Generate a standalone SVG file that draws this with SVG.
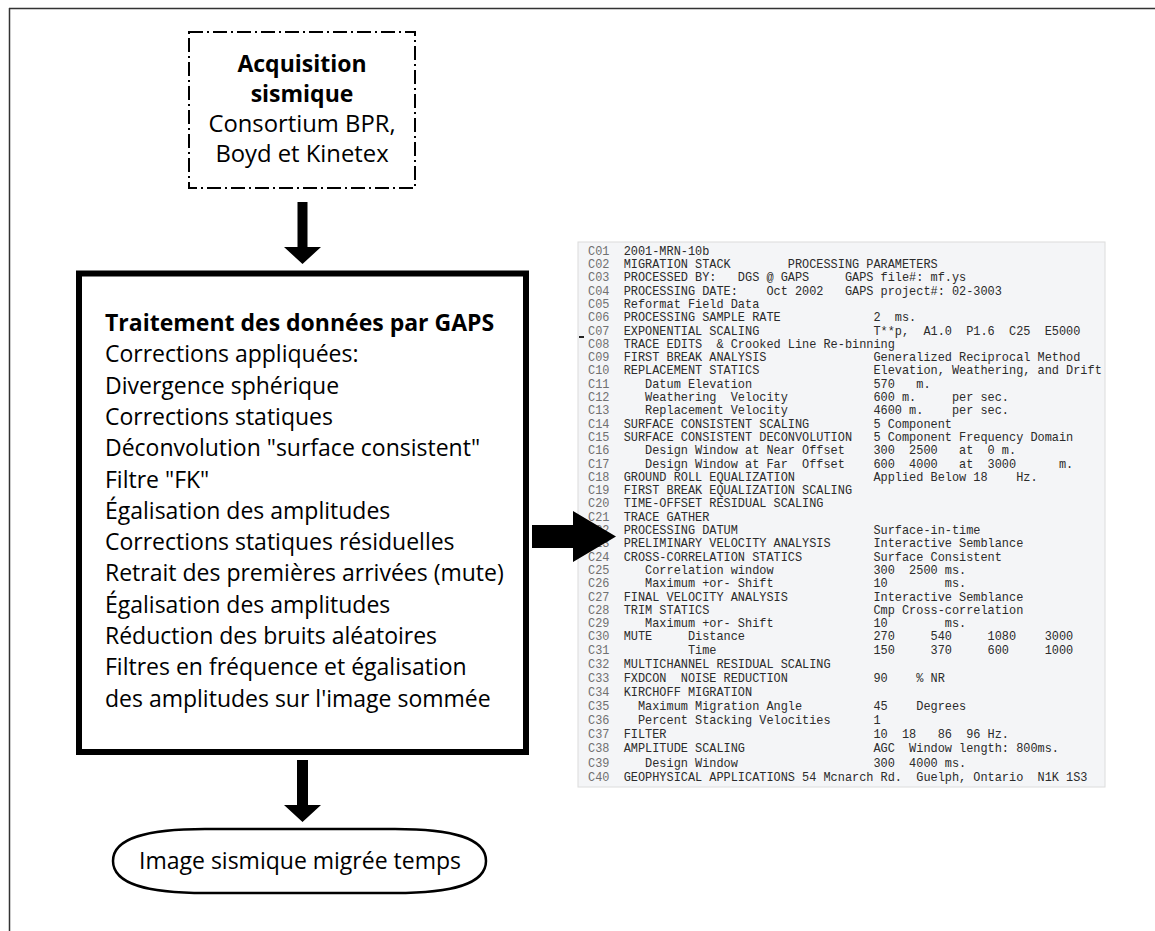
<svg xmlns="http://www.w3.org/2000/svg" width="1155" height="931" viewBox="0 0 1155 931">
<style>
.s{font-family:"Open Sans","Liberation Sans",sans-serif;font-size:23px;fill:#000}
.b{font-weight:bold;font-size:23px}
.a{font-size:23.8px}
.c{text-anchor:middle}
.m{font-family:"Liberation Mono","DejaVu Sans Mono",monospace;font-size:11.9px;fill:#2b2b2b;white-space:pre}
.l{fill:#707070}
.frame{stroke:#333;stroke-width:1.5;fill:none}
.arrow{fill:#000}
</style>
<rect width="1155" height="931" fill="#fff"/>
<g id="frame">
<line class="frame" x1="9" y1="8.5" x2="1155" y2="8.5"/>
<line class="frame" x1="9.5" y1="8" x2="9.5" y2="931"/>
</g>
<g id="node-acquisition">
<rect x="189" y="32" width="226" height="156" fill="#fff" stroke="#000" stroke-width="2" stroke-dasharray="14 4 2 4"/>
<text class="s b c" x="302" y="72">Acquisition</text>
<text class="s b c" x="302" y="102">sismique</text>
<text class="s a c" x="302" y="132">Consortium BPR,</text>
<text class="s a c" x="302" y="162">Boyd et Kinetex</text>
</g>
<g id="node-traitement">
<rect x="79" y="273.5" width="447" height="478.5" fill="#fff" stroke="#000" stroke-width="6"/>
<text class="s b" x="105" y="331">Traitement des données par GAPS</text>
<text class="s" x="105" y="362.3">Corrections appliquées:</text>
<text class="s" x="105" y="393.6">Divergence sphérique</text>
<text class="s" x="105" y="424.9">Corrections statiques</text>
<text class="s" x="105" y="456.2">Déconvolution "surface consistent"</text>
<text class="s" x="105" y="487.5">Filtre "FK"</text>
<text class="s" x="105" y="518.8">Égalisation des amplitudes</text>
<text class="s" x="105" y="550.1">Corrections statiques résiduelles</text>
<text class="s" x="105" y="581.4">Retrait des premières arrivées (mute)</text>
<text class="s" x="105" y="612.7">Égalisation des amplitudes</text>
<text class="s" x="105" y="644">Réduction des bruits aléatoires</text>
<text class="s" x="105" y="675.3">Filtres en fréquence et égalisation</text>
<text class="s" x="105" y="706.6">des amplitudes sur l'image sommée</text>
</g>
<g id="node-image">
<path d="M113,861 C113,837 150,829 205,829 L395,829 C450,829 486,837 486,861 C486,885 450,893 395,893 L205,893 C150,893 113,885 113,861 Z" fill="#fff" stroke="#000" stroke-width="2.5"/>
<text class="s c" x="300" y="869">Image sismique migrée temps</text>
</g>
<g id="node-parametres">
<rect x="578" y="242" width="527" height="545" fill="#f4f5f7" stroke="#dcdcdc" stroke-width="1"/>
<rect x="579" y="336" width="5" height="2" fill="#222"/>
<g class="m">
<text class="m l" x="588" y="254.7">C01</text><text class="m" x="623.7" y="254.7">2001-MRN-10b</text>
<text class="m l" x="588" y="268">C02</text><text class="m" x="623.7" y="268">MIGRATION STACK        PROCESSING PARAMETERS</text>
<text class="m l" x="588" y="281.3">C03</text><text class="m" x="623.7" y="281.3">PROCESSED BY:   DGS @ GAPS     GAPS file#: mf.ys</text>
<text class="m l" x="588" y="294.6">C04</text><text class="m" x="623.7" y="294.6">PROCESSING DATE:    Oct 2002   GAPS project#: 02-3003</text>
<text class="m l" x="588" y="307.9">C05</text><text class="m" x="623.7" y="307.9">Reformat Field Data</text>
<text class="m l" x="588" y="321.2">C06</text><text class="m" x="623.7" y="321.2">PROCESSING SAMPLE RATE             2  ms.</text>
<text class="m l" x="588" y="334.5">C07</text><text class="m" x="623.7" y="334.5">EXPONENTIAL SCALING                T**p,  A1.0  P1.6  C25  E5000</text>
<text class="m l" x="588" y="347.8">C08</text><text class="m" x="623.7" y="347.8">TRACE EDITS  &amp; Crooked Line Re-binning</text>
<text class="m l" x="588" y="361.1">C09</text><text class="m" x="623.7" y="361.1">FIRST BREAK ANALYSIS               Generalized Reciprocal Method</text>
<text class="m l" x="588" y="374.4">C10</text><text class="m" x="623.7" y="374.4">REPLACEMENT STATICS                Elevation, Weathering, and Drift</text>
<text class="m l" x="588" y="387.7">C11</text><text class="m" x="623.7" y="387.7">   Datum Elevation                 570   m.</text>
<text class="m l" x="588" y="401">C12</text><text class="m" x="623.7" y="401">   Weathering  Velocity            600 m.     per sec.</text>
<text class="m l" x="588" y="414.3">C13</text><text class="m" x="623.7" y="414.3">   Replacement Velocity            4600 m.    per sec.</text>
<text class="m l" x="588" y="427.6">C14</text><text class="m" x="623.7" y="427.6">SURFACE CONSISTENT SCALING         5 Component</text>
<text class="m l" x="588" y="440.9">C15</text><text class="m" x="623.7" y="440.9">SURFACE CONSISTENT DECONVOLUTION   5 Component Frequency Domain</text>
<text class="m l" x="588" y="454.2">C16</text><text class="m" x="623.7" y="454.2">   Design Window at Near Offset    300  2500   at  0 m.</text>
<text class="m l" x="588" y="467.5">C17</text><text class="m" x="623.7" y="467.5">   Design Window at Far  Offset    600  4000   at  3000      m.</text>
<text class="m l" x="588" y="480.8">C18</text><text class="m" x="623.7" y="480.8">GROUND ROLL EQUALIZATION           Applied Below 18    Hz.</text>
<text class="m l" x="588" y="494.1">C19</text><text class="m" x="623.7" y="494.1">FIRST BREAK EQUALIZATION SCALING</text>
<text class="m l" x="588" y="507.4">C20</text><text class="m" x="623.7" y="507.4">TIME-OFFSET RESIDUAL SCALING</text>
<text class="m l" x="588" y="520.7">C21</text><text class="m" x="623.7" y="520.7">TRACE GATHER</text>
<text class="m l" x="588" y="534">C22</text><text class="m" x="623.7" y="534">PROCESSING DATUM                   Surface-in-time</text>
<text class="m l" x="588" y="547.3">C23</text><text class="m" x="623.7" y="547.3">PRELIMINARY VELOCITY ANALYSIS      Interactive Semblance</text>
<text class="m l" x="588" y="560.6">C24</text><text class="m" x="623.7" y="560.6">CROSS-CORRELATION STATICS          Surface Consistent</text>
<text class="m l" x="588" y="573.9">C25</text><text class="m" x="623.7" y="573.9">   Correlation window              300  2500 ms.</text>
<text class="m l" x="588" y="587.2">C26</text><text class="m" x="623.7" y="587.2">   Maximum +or- Shift              10        ms.</text>
<text class="m l" x="588" y="600.5">C27</text><text class="m" x="623.7" y="600.5">FINAL VELOCITY ANALYSIS            Interactive Semblance</text>
<text class="m l" x="588" y="613.8">C28</text><text class="m" x="623.7" y="613.8">TRIM STATICS                       Cmp Cross-correlation</text>
<text class="m l" x="588" y="627.1">C29</text><text class="m" x="623.7" y="627.1">   Maximum +or- Shift              10        ms.</text>
<text class="m l" x="588" y="640.4">C30</text><text class="m" x="623.7" y="640.4">MUTE     Distance                  270     540     1080    3000</text>
<text class="m l" x="588" y="653.7">C31</text><text class="m" x="623.7" y="653.7">         Time                      150     370     600     1000</text>
<text class="m l" x="588" y="667.8">C32</text><text class="m" x="623.7" y="667.8">MULTICHANNEL RESIDUAL SCALING</text>
<text class="m l" x="588" y="681.9">C33</text><text class="m" x="623.7" y="681.9">FXDCON  NOISE REDUCTION            90    % NR</text>
<text class="m l" x="588" y="696">C34</text><text class="m" x="623.7" y="696">KIRCHOFF MIGRATION</text>
<text class="m l" x="588" y="710.1">C35</text><text class="m" x="623.7" y="710.1">  Maximum Migration Angle          45    Degrees</text>
<text class="m l" x="588" y="724.2">C36</text><text class="m" x="623.7" y="724.2">  Percent Stacking Velocities      1</text>
<text class="m l" x="588" y="738.3">C37</text><text class="m" x="623.7" y="738.3">FILTER                             10  18   86  96 Hz.</text>
<text class="m l" x="588" y="752.4">C38</text><text class="m" x="623.7" y="752.4">AMPLITUDE SCALING                  AGC  Window length: 800ms.</text>
<text class="m l" x="588" y="766.5">C39</text><text class="m" x="623.7" y="766.5">   Design Window                   300  4000 ms.</text>
<text class="m l" x="588" y="780.6">C40</text><text class="m" x="623.7" y="780.6">GEOPHYSICAL APPLICATIONS 54 Mcnarch Rd.  Guelph, Ontario  N1K 1S3</text>
</g>
</g>
<g id="connectors">
<polygon class="arrow" points="297.5,202 307.5,202 307.5,247 321,247 302.5,264 284,247 297.5,247"/>
<polygon class="arrow" points="297,760 308,760 308,805 321,805 302.5,822 284,805 297,805"/>
<polygon class="arrow" points="532,525 573,525 573,511 616,536.5 573,562 573,548 532,548"/>
</g>
</svg>
